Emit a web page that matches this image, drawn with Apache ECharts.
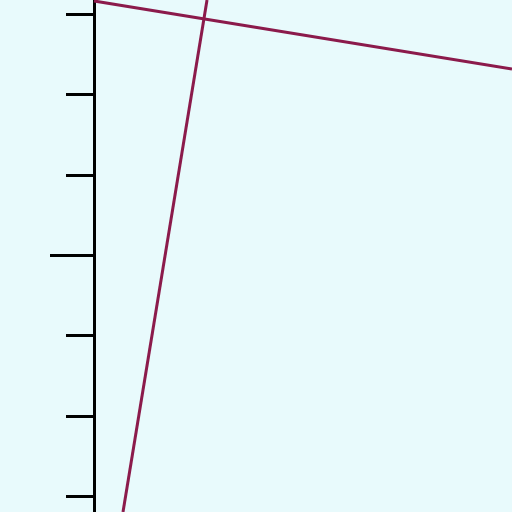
<!DOCTYPE html>
<html><head><meta charset="utf-8">
<script src="https://cdn.jsdelivr.net/npm/echarts@6/dist/echarts.min.js"></script>
<style>html,body{margin:0;padding:0;background:#e8fafc;}#c{width:512px;height:512px;}</style>
</head><body><div id="c"></div>
<script>
const yTicks = [-3, -2, -1, 0, 1, 2, 3];
const yLongTick = [0];
const yRange = [-3.196, 3.178];
const xRange = [0, 5.204];
const lineA = [[0, 3.166], [5.204, 2.319]];
const lineB = [[0.361, -3.196], [1.407, 3.178]];
const chart = echarts.init(document.getElementById('c'), null, {renderer: 'canvas'});
chart.setOption({
  backgroundColor: '#e8fafc',
  animation: false,
  grid: {left: 94, top: 0, right: 0, bottom: 0, containLabel: false},
  xAxis: {type: 'value', min: xRange[0], max: xRange[1], show: false},
  yAxis: [
    {type: 'value', min: yRange[0], max: yRange[1],
     axisLine: {show: true, lineStyle: {color: '#000', width: 3}},
     axisTick: {show: true, length: 28, customValues: yTicks, lineStyle: {color: '#000', width: 3}},
     axisLabel: {show: false, customValues: yTicks}, splitLine: {show: false}},
    {type: 'value', min: yRange[0], max: yRange[1], position: 'left',
     axisLine: {show: false},
     axisTick: {show: true, length: 44, customValues: yLongTick, lineStyle: {color: '#000', width: 3}},
     axisLabel: {show: false, customValues: yLongTick}, splitLine: {show: false}}
  ],
  series: [
    {type: 'line', data: lineA, showSymbol: false, lineStyle: {color: '#8b1a4b', width: 3}, clip: true},
    {type: 'line', data: lineB, showSymbol: false, lineStyle: {color: '#8b1a4b', width: 3}, clip: true}
  ]
});
</script></body></html>
